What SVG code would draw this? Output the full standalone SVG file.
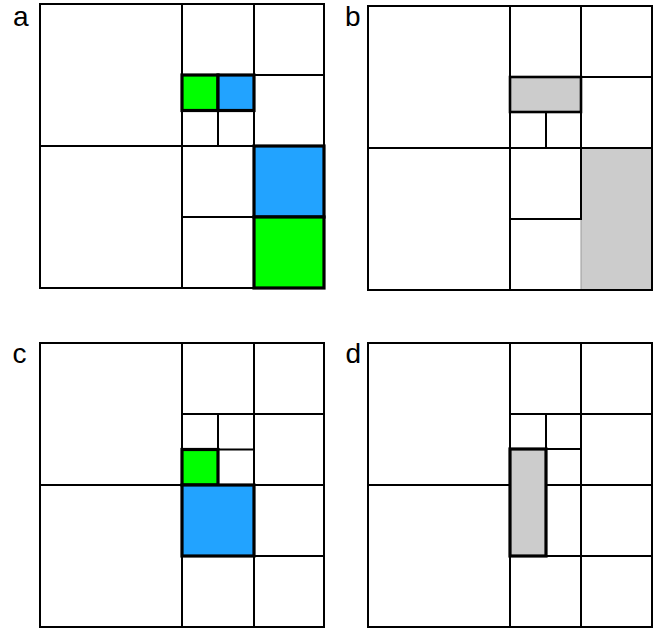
<svg xmlns="http://www.w3.org/2000/svg" width="664" height="631" viewBox="0 0 664 631">
<style>
.bg{fill:#ffffff}
.ln{stroke:#000;stroke-width:2;fill:none;stroke-linecap:square}
.hl{stroke:#000;stroke-width:3.2;stroke-linejoin:miter}
.green{fill:#00ff00}
.blue{fill:#22a3ff}
.gray{fill:#cccccc}
.lbl{font-family:"Liberation Sans",Arial,Helvetica,sans-serif;font-size:28px;fill:#000}
</style>
<rect class="bg" x="0" y="0" width="664" height="631"/>

<g id="panel-a">
  <text class="lbl" x="13" y="26">a</text>
  <g id="a-grid">
    <rect class="ln" x="40" y="4" width="284" height="284"/>
    <path class="ln" d="M182 4V288M254 4V288M40 146H324M182 75H324M182 217H324M218 75V146M182 110.5H254"/>
  </g>
  <g id="a-cells">
    <rect class="green hl" x="182" y="75" width="36" height="35.5"/>
    <rect class="blue hl" x="218" y="75" width="36" height="35.5"/>
    <rect class="blue hl" x="254" y="146" width="70" height="71"/>
    <rect class="green hl" x="254" y="217" width="70" height="71"/>
  </g>
</g>

<g id="panel-b">
  <text class="lbl" x="345" y="26">b</text>
  <g id="b-cells-under">
    <rect class="gray" x="581" y="148" width="71" height="142" stroke="#999" stroke-width="1"/>
  </g>
  <g id="b-grid">
    <rect class="ln" x="368" y="6" width="284" height="284"/>
    <path class="ln" d="M510 6V290M581 6V219M368 148H652M510 77H652M510 219H581M546 112V148M510 112H581"/>
  </g>
  <g id="b-cells">
    <rect class="gray" x="510" y="77" width="71" height="35" stroke="#000" stroke-width="2.6"/>
  </g>
</g>

<g id="panel-c">
  <text class="lbl" x="12.5" y="362.5">c</text>
  <g id="c-grid">
    <rect class="ln" x="40" y="343" width="284" height="284"/>
    <path class="ln" d="M182 343V627M254 343V627M40 485H324M182 414H324M182 556H324M218 414V485M182 449.5H254"/>
  </g>
  <g id="c-cells">
    <rect class="green hl" x="182" y="449.5" width="36" height="35.5"/>
    <rect class="blue hl" x="182" y="485" width="72" height="71"/>
  </g>
</g>

<g id="panel-d">
  <text class="lbl" x="345.5" y="362.5">d</text>
  <g id="d-grid">
    <rect class="ln" x="368" y="343" width="284" height="284"/>
    <path class="ln" d="M510 343V627M581 343V627M368 485H510M546 485H652M510 414H652M510 556H652M546 414V556M510 449H581"/>
  </g>
  <g id="d-cells">
    <rect class="gray hl" x="510" y="449" width="36" height="107"/>
  </g>
</g>
</svg>
